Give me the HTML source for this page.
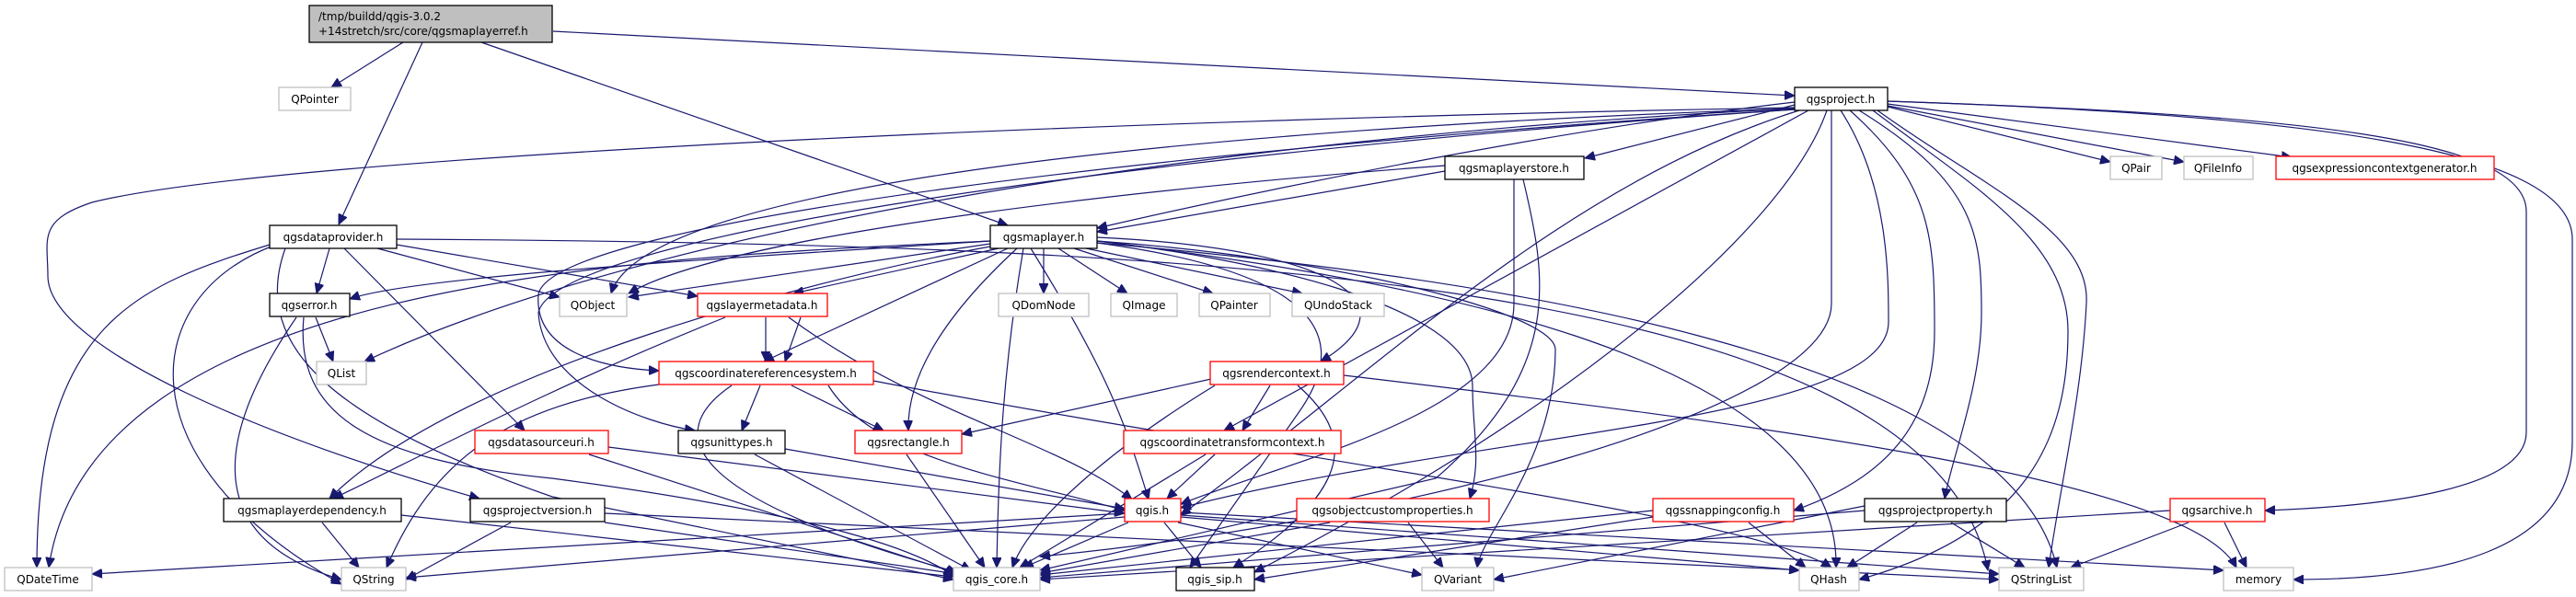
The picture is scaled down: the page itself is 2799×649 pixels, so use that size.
<!DOCTYPE html>
<html><head><meta charset="utf-8"><style>
html,body{margin:0;padding:0;background:#fff;}
svg{display:block;}
text{font-family:"DejaVu Sans","Liberation Sans",sans-serif;font-size:12px;fill:#000;}
.e{fill:none;stroke:#191970;stroke-width:1.2;marker-end:url(#a);}
.n{fill:#fff;stroke:#000;stroke-width:1.3;}
.g{fill:#fff;stroke:#bfbfbf;stroke-width:1.3;}
.r{fill:#fff;stroke:#ff0000;stroke-width:1.3;}
</style></head><body>
<svg width="2799" height="649" viewBox="0 0 2799 649" xmlns="http://www.w3.org/2000/svg">
<defs><marker id="a" markerUnits="userSpaceOnUse" markerWidth="12" markerHeight="10" refX="11" refY="5" orient="auto"><path d="M0,0 L11,5 L0,10 Z" fill="#191970" stroke="#191970"/></marker></defs>
<g>
<!-- root -->
<path class="e" d="M438,46 L360,95"/>
<path class="e" d="M459,46 L368,244"/>
<path class="e" d="M523,46 L1095,245"/>
<path class="e" d="M601,34 L1950,104"/>
<!-- project -->
<path class="e" d="M1950,114 L1722,172"/>
<path class="e" d="M1950,111 C1700,140 1400,200 1192,248"/>
<path class="e" d="M2051,116 L2293,176"/>
<path class="e" d="M2051,115 L2373,176"/>
<path class="e" d="M2051,113 L2490,171"/>
<path class="e" d="M2051,110 C2500,125 2745,150 2745,230 L2745,470 C2745,530 2600,550 2461,555"/>
<path class="e" d="M2051,110 C2500,125 2795,160 2795,260 L2795,480 C2795,600 2650,630 2492,630"/>
<path class="e" d="M2040,120 C2150,200 2272,250 2267,330 C2262,430 2240,520 2226,617"/>
<path class="e" d="M2035,120 C2140,200 2247,260 2247,360 C2247,480 2200,580 2020,630"/>
<path class="e" d="M2020,120 C2150,200 2153,260 2153,340 C2153,420 2120,500 2113,542"/>
<path class="e" d="M2010,120 C2100,200 2102,260 2102,360 C2102,460 2050,520 1949,555"/>
<path class="e" d="M2000,120 C2052,200 2052,300 2052,350 C2052,460 1600,470 1283,552"/>
<path class="e" d="M1990,120 L1990,330 C1990,450 1500,570 1130,605"/>
<path class="e" d="M1985,120 C1940,250 1700,450 1363,622"/>
<path class="e" d="M1950,117 C1200,130 300,170 100,220 C40,240 52,260 52,300 C52,380 300,480 521,542"/>
<path class="e" d="M1950,118 C1300,150 700,250 396,393"/>
<path class="e" d="M1950,118 C1300,140 700,200 664,319"/>
<path class="e" d="M1950,119 C1300,160 600,240 585,320 C580,380 650,400 716,403"/>
<path class="e" d="M1950,119 C1200,170 600,260 585,340 C590,420 700,460 755,468"/>
<path class="e" d="M1965,120 L1330,468"/>
<path class="e" d="M1955,120 C1700,200 1500,400 1283,560"/>
<!-- maplayerstore -->
<path class="e" d="M1570,186 L1192,252"/>
<path class="e" d="M1570,180 C1300,200 800,250 683,319"/>
<path class="e" d="M1645,195 L1645,330 C1645,450 1400,500 1283,548"/>
<path class="e" d="M1655,195 C1680,300 1700,400 1560,520 L1130,620"/>
<!-- maplayer -->
<path class="e" d="M1134,270 L1134,319"/>
<path class="e" d="M1150,270 L1225,319"/>
<path class="e" d="M1167,270 L1318,319"/>
<path class="e" d="M1180,270 L1415,319"/>
<path class="e" d="M1076,265 L683,323"/>
<path class="e" d="M1085,270 L862,319"/>
<path class="e" d="M1076,262 C800,280 450,300 380,325"/>
<path class="e" d="M1192,258 C1450,270 1540,330 1435,393"/>
<path class="e" d="M1095,270 L830,393"/>
<path class="e" d="M1105,270 C1040,330 985,400 987,468"/>
<path class="e" d="M1112,270 C1090,400 1085,500 1083,617"/>
<path class="e" d="M1120,270 C1200,400 1220,450 1248,543"/>
<path class="e" d="M1192,262 C1350,280 1600,330 1600,420 C1600,470 1610,500 1597,542"/>
<path class="e" d="M1192,262 C1450,280 1690,340 1690,380 C1690,500 1610,580 1605,617"/>
<path class="e" d="M1192,264 C1600,300 2180,380 2235,617"/>
<path class="e" d="M1076,268 C900,300 500,400 358,542"/>
<path class="e" d="M1076,262 C700,280 100,300 53,617"/>
<path class="e" d="M1192,264 C1460,300 1460,380 1410,450 L1293,617"/>
<path class="e" d="M1192,262 C1500,300 2000,380 1995,617"/>
<!-- dataprovider -->
<path class="e" d="M358,270 L344,319"/>
<path class="e" d="M410,270 L608,323"/>
<path class="e" d="M431,266 L758,322"/>
<path class="e" d="M374,270 L570,468"/>
<path class="e" d="M293,266 C150,310 40,350 40,617"/>
<path class="e" d="M300,266 C150,320 130,500 371,635"/>
<path class="e" d="M310,270 C270,380 370,460 600,540 L1036,630"/>
<path class="e" d="M431,260 C1300,265 2100,300 2160,620"/>
<!-- qgserror -->
<path class="e" d="M343,345 L362,393"/>
<path class="e" d="M322,345 C250,450 200,580 371,630"/>
<path class="e" d="M330,345 C320,450 400,500 600,520 C900,560 1000,600 1036,626"/>
<!-- layermetadata -->
<path class="e" d="M832,345 L832,393"/>
<path class="e" d="M857,345 C1000,450 1150,480 1230,543"/>
<path class="e" d="M788,345 C600,420 450,500 362,542"/>
<path class="e" d="M870,345 L853,393"/>
<!-- crs -->
<path class="e" d="M716,418 C550,440 470,500 420,617"/>
<path class="e" d="M826,419 L806,468"/>
<path class="e" d="M860,419 L960,468"/>
<path class="e" d="M900,419 C950,500 1100,520 1222,555"/>
<path class="e" d="M795,419 C720,470 740,540 1040,622"/>
<path class="e" d="M949,414 C1400,500 1900,560 1990,617"/>
<!-- others -->
<path class="e" d="M661,486 L1222,558"/>
<path class="e" d="M640,494 L1045,625"/>
<path class="e" d="M853,488 L1222,553"/>
<path class="e" d="M820,494 L1055,620"/>
<path class="e" d="M985,494 L1070,617"/>
<path class="e" d="M1325,410 L1045,472"/>
<path class="e" d="M1380,419 L1350,468"/>
<path class="e" d="M1320,419 C1220,480 1120,560 1100,617"/>
<path class="e" d="M1410,419 C1480,480 1460,540 1340,617"/>
<path class="e" d="M1460,408 C1900,460 2380,520 2430,617"/>
<path class="e" d="M1320,494 L1268,542"/>
<path class="e" d="M1310,494 L1108,617"/>
<path class="e" d="M350,568 L390,617"/>
<path class="e" d="M436,560 L1036,627"/>
<path class="e" d="M555,568 L441,630"/>
<path class="e" d="M657,568 L1040,624"/>
<path class="e" d="M657,558 L2172,630"/>
<path class="e" d="M1226,568 L1112,617"/>
<path class="e" d="M1265,568 L1305,617"/>
<path class="e" d="M1280,568 L1545,625"/>
<path class="e" d="M1222,562 L441,628"/>
<path class="e" d="M1222,558 L100,624"/>
<path class="e" d="M1283,562 L1955,620"/>
<path class="e" d="M1283,560 L2172,624"/>
<path class="e" d="M1283,557 L2416,620"/>
<path class="e" d="M1445,568 L1130,623"/>
<path class="e" d="M1530,568 L1568,617"/>
<path class="e" d="M1796,555 L1130,625"/>
<path class="e" d="M1900,568 L1962,617"/>
<path class="e" d="M1796,562 L1363,630"/>
<path class="e" d="M2026,550 L1623,630"/>
<path class="e" d="M2026,555 L1130,628"/>
<path class="e" d="M2083,568 L2007,617"/>
<path class="e" d="M2120,568 L2200,617"/>
<path class="e" d="M2358,555 L1130,630"/>
<path class="e" d="M2378,568 L2250,617"/>
<path class="e" d="M2417,568 L2441,617"/>
</g>
<!-- nodes -->
<rect x="336" y="6" width="264" height="40" fill="#bfbfbf" stroke="#000" stroke-width="1.3"/>
<text x="346" y="22">/tmp/buildd/qgis-3.0.2</text>
<text x="346" y="38">+14stretch/src/core/qgsmaplayerref.h</text>
<rect class="g" x="303" y="95" width="78" height="25"/><text x="342" y="112" text-anchor="middle">QPointer</text>
<rect class="n" x="1950" y="95" width="101" height="25"/><text x="2000" y="112" text-anchor="middle">qgsproject.h</text>
<rect class="n" x="1570" y="170" width="151" height="25"/><text x="1645" y="187" text-anchor="middle">qgsmaplayerstore.h</text>
<rect class="g" x="2293" y="170" width="56" height="25"/><text x="2321" y="187" text-anchor="middle">QPair</text>
<rect class="g" x="2373" y="170" width="75" height="25"/><text x="2410" y="187" text-anchor="middle">QFileInfo</text>
<rect class="r" x="2473" y="170" width="237" height="25"/><text x="2591" y="187" text-anchor="middle">qgsexpressioncontextgenerator.h</text>
<rect class="n" x="293" y="245" width="138" height="25"/><text x="362" y="262" text-anchor="middle">qgsdataprovider.h</text>
<rect class="n" x="1076" y="245" width="116" height="25"/><text x="1134" y="262" text-anchor="middle">qgsmaplayer.h</text>
<rect class="n" x="293" y="319" width="87" height="25"/><text x="336" y="336" text-anchor="middle">qgserror.h</text>
<rect class="g" x="608" y="319" width="73" height="25"/><text x="644" y="336" text-anchor="middle">QObject</text>
<rect class="r" x="758" y="319" width="141" height="25"/><text x="828" y="336" text-anchor="middle">qgslayermetadata.h</text>
<rect class="g" x="1085" y="319" width="98" height="25"/><text x="1134" y="336" text-anchor="middle">QDomNode</text>
<rect class="g" x="1207" y="319" width="72" height="25"/><text x="1243" y="336" text-anchor="middle">QImage</text>
<rect class="g" x="1303" y="319" width="77" height="25"/><text x="1341" y="336" text-anchor="middle">QPainter</text>
<rect class="g" x="1404" y="319" width="100" height="25"/><text x="1454" y="336" text-anchor="middle">QUndoStack</text>
<rect class="g" x="344" y="393" width="54" height="25"/><text x="371" y="410" text-anchor="middle">QList</text>
<rect class="r" x="716" y="393" width="233" height="25"/><text x="832" y="410" text-anchor="middle">qgscoordinatereferencesystem.h</text>
<rect class="r" x="1315" y="393" width="145" height="25"/><text x="1387" y="410" text-anchor="middle">qgsrendercontext.h</text>
<rect class="r" x="516" y="468" width="145" height="25"/><text x="588" y="485" text-anchor="middle">qgsdatasourceuri.h</text>
<rect class="n" x="737" y="468" width="116" height="25"/><text x="795" y="485" text-anchor="middle">qgsunittypes.h</text>
<rect class="r" x="929" y="468" width="116" height="25"/><text x="987" y="485" text-anchor="middle">qgsrectangle.h</text>
<rect class="r" x="1221" y="468" width="236" height="25"/><text x="1339" y="485" text-anchor="middle">qgscoordinatetransformcontext.h</text>
<rect class="n" x="243" y="542" width="193" height="25"/><text x="339" y="559" text-anchor="middle">qgsmaplayerdependency.h</text>
<rect class="n" x="511" y="542" width="146" height="25"/><text x="584" y="559" text-anchor="middle">qgsprojectversion.h</text>
<rect class="r" x="1222" y="542" width="61" height="25"/><text x="1252" y="559" text-anchor="middle">qgis.h</text>
<rect class="r" x="1409" y="542" width="209" height="25"/><text x="1513" y="559" text-anchor="middle">qgsobjectcustomproperties.h</text>
<rect class="r" x="1796" y="542" width="153" height="25"/><text x="1872" y="559" text-anchor="middle">qgssnappingconfig.h</text>
<rect class="n" x="2026" y="542" width="154" height="25"/><text x="2103" y="559" text-anchor="middle">qgsprojectproperty.h</text>
<rect class="r" x="2358" y="542" width="103" height="25"/><text x="2409" y="559" text-anchor="middle">qgsarchive.h</text>
<rect class="g" x="5" y="617" width="95" height="25"/><text x="52" y="634" text-anchor="middle">QDateTime</text>
<rect class="g" x="371" y="617" width="70" height="25"/><text x="406" y="634" text-anchor="middle">QString</text>
<rect class="g" x="1036" y="617" width="94" height="25"/><text x="1083" y="634" text-anchor="middle">qgis_core.h</text>
<rect class="n" x="1278" y="617" width="85" height="25"/><text x="1320" y="634" text-anchor="middle">qgis_sip.h</text>
<rect class="g" x="1545" y="617" width="78" height="25"/><text x="1584" y="634" text-anchor="middle">QVariant</text>
<rect class="g" x="1955" y="617" width="65" height="25"/><text x="1987" y="634" text-anchor="middle">QHash</text>
<rect class="g" x="2172" y="617" width="92" height="25"/><text x="2218" y="634" text-anchor="middle">QStringList</text>
<rect class="g" x="2416" y="617" width="76" height="25"/><text x="2454" y="634" text-anchor="middle">memory</text>
</svg>
</body></html>
